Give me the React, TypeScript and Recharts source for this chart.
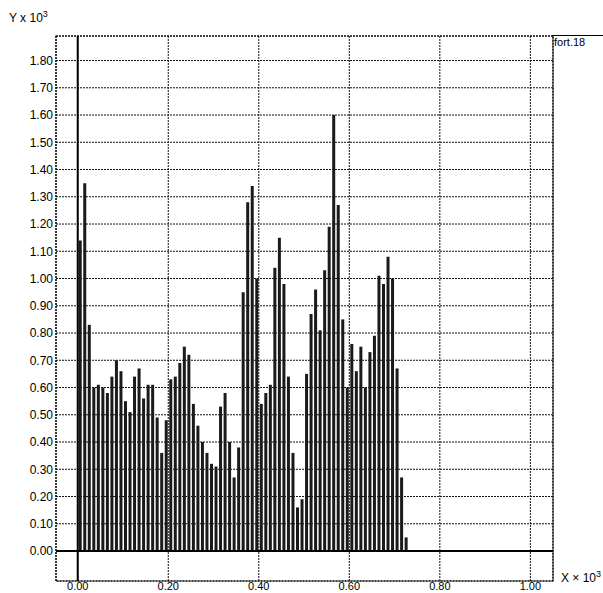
import {
  BarChart,
  Bar,
  XAxis,
  YAxis,
  CartesianGrid,
  ReferenceLine,
  ReferenceArea,
} from "recharts";

// x positions (x 10^3)
const xPositions = [
  0.005, 0.015, 0.025, 0.035, 0.045, 0.055, 0.065, 0.075, 0.085, 0.095,
  0.105, 0.115, 0.125, 0.135, 0.145, 0.155, 0.165, 0.175, 0.185, 0.195,
  0.205, 0.215, 0.225, 0.235, 0.245, 0.255, 0.265, 0.275, 0.285, 0.295,
  0.305, 0.315, 0.325, 0.335, 0.345, 0.355, 0.365, 0.375, 0.385, 0.395,
  0.405, 0.415, 0.425, 0.435, 0.445, 0.455, 0.465, 0.475, 0.485, 0.495,
  0.505, 0.515, 0.525, 0.535, 0.545, 0.555, 0.565, 0.575, 0.585, 0.595,
  0.605, 0.615, 0.625, 0.635, 0.645, 0.655, 0.665, 0.675, 0.685, 0.695,
  0.705, 0.715, 0.725,
];

// y values (x 10^3)
const yValues = [
  1.14, 1.35, 0.83, 0.6, 0.61, 0.6, 0.58, 0.64, 0.7, 0.66,
  0.55, 0.51, 0.64, 0.67, 0.56, 0.61, 0.61, 0.49, 0.36, 0.48,
  0.63, 0.64, 0.69, 0.75, 0.72, 0.54, 0.46, 0.4, 0.36, 0.32,
  0.31, 0.53, 0.58, 0.4, 0.27, 0.38, 0.95, 1.28, 1.34, 1.0,
  0.54, 0.58, 0.61, 1.04, 1.15, 0.98, 0.64, 0.36, 0.16, 0.19,
  0.65, 0.87, 0.96, 0.81, 1.03, 1.19, 1.6, 1.27, 0.85, 0.6,
  0.76, 0.66, 0.75, 0.6, 0.73, 0.79, 1.01, 0.98, 1.08, 1.0,
  0.67, 0.27, 0.05,
];

const xTicks = [0, 0.2, 0.4, 0.6, 0.8, 1.0];
const yTicks = [
  0, 0.1, 0.2, 0.3, 0.4, 0.5, 0.6, 0.7, 0.8, 0.9,
  1.0, 1.1, 1.2, 1.3, 1.4, 1.5, 1.6, 1.7, 1.8,
];

const X_DOMAIN: [number, number] = [-0.048, 1.05];
const Y_DOMAIN: [number, number] = [-0.11, 1.89];

const data = xPositions.map((x, i) => ({ x, y: yValues[i] }));

export default function App() {
  return (
    <div
      style={{
        position: "absolute",
        left: 0,
        top: 0,
        width: 603,
        height: 593,
        background: "#fff",
        fontFamily: "'Liberation Sans', Arial, sans-serif",
        color: "#000",
      }}
    >
      <BarChart
        width={603}
        height={593}
        data={data}
        margin={{ top: 36, right: 50, left: 0, bottom: 0 }}
      >
        <CartesianGrid stroke="#111" strokeDasharray="2 1" />
        <XAxis
          dataKey="x"
          type="number"
          domain={X_DOMAIN}
          ticks={xTicks}
          interval={0}
          allowDataOverflow
          height={12}
          axisLine={false}
          tickLine={false}
          tickSize={0}
          tickMargin={1}
          tick={{ fill: "#000", fontSize: 11 }}
          tickFormatter={(v) => Number(v).toFixed(2)}
        />
        <YAxis
          type="number"
          domain={Y_DOMAIN}
          ticks={yTicks}
          interval={0}
          allowDataOverflow
          width={56}
          axisLine={false}
          tickLine={false}
          tickSize={0}
          tickMargin={3}
          tick={{ fill: "#000", fontSize: 12 }}
          tickFormatter={(v) => Number(v).toFixed(2)}
        />
        <Bar dataKey="y" fill="#1a1a1a" barSize={3} isAnimationActive={false} />
        <ReferenceArea
          x1={X_DOMAIN[0]}
          x2={X_DOMAIN[1]}
          y1={Y_DOMAIN[0]}
          y2={Y_DOMAIN[1]}
          fill="none"
          fillOpacity={0}
          stroke="#000"
          strokeWidth={1.2}
          strokeDasharray="2 1"
        />
        <ReferenceLine y={0} stroke="#000" strokeWidth={2} />
        <ReferenceLine x={0} stroke="#000" strokeWidth={2} />
      </BarChart>

      <div style={{ position: "absolute", left: 9, top: 9, fontSize: 12 }}>
        Y x 10<sup style={{ fontSize: 9 }}>3</sup>
      </div>
      <div style={{ position: "absolute", left: 561, top: 569, fontSize: 12 }}>
        X × 10<sup style={{ fontSize: 9 }}>3</sup>
      </div>
      <div
        style={{
          position: "absolute",
          left: 552,
          top: 35,
          width: 51,
          borderTop: "1.5px solid #000",
          fontSize: 11,
          paddingLeft: 2,
          lineHeight: "13px",
        }}
      >
        fort.18
      </div>
    </div>
  );
}
